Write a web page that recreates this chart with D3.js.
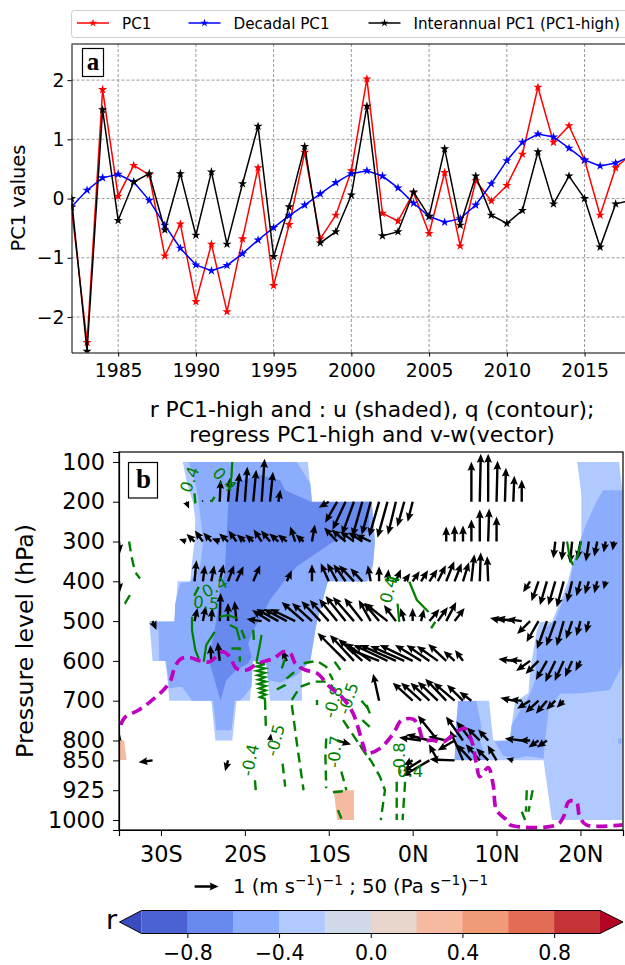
<!DOCTYPE html>
<html>
<head>
<meta charset="utf-8">
<script src="https://cdn.jsdelivr.net/npm/d3@7"></script>
<style>
  html, body { margin: 0; padding: 0; background: #fff; }
  svg { display: block; }
  text { font-family: "DejaVu Sans", sans-serif; fill: #000; }
</style>
</head>
<body>
<svg id="main-svg" width="625" height="965"></svg>
<script>
// ---- panel a data
var years = d3.range(1982, 2019);
var pc1 = [-0.15,-2.43,1.84,0.04,0.56,0.40,-0.97,-0.43,-1.74,-0.77,-1.91,-0.68,0.52,-1.47,-0.44,0.78,-0.68,-0.28,0.47,2.02,-0.25,-0.38,0.10,-0.59,0.44,-0.80,0.30,-0.04,0.22,0.75,1.88,0.95,1.23,0.65,-0.28,0.52,0.75];
var pc1Decadal = [-0.14,0.14,0.35,0.41,0.28,-0.03,-0.45,-0.84,-1.12,-1.22,-1.13,-0.93,-0.70,-0.49,-0.29,-0.11,0.08,0.27,0.42,0.47,0.38,0.18,-0.08,-0.30,-0.40,-0.34,-0.11,0.25,0.64,0.95,1.09,1.04,0.85,0.65,0.55,0.60,0.72];
var pc1High = [0.00,-2.58,1.50,-0.37,0.28,0.42,-0.53,0.42,-0.62,0.45,-0.77,0.25,1.22,-0.98,-0.14,0.88,-0.75,-0.56,0.06,1.56,-0.63,-0.56,0.11,-0.30,0.84,-0.45,0.38,-0.28,-0.42,-0.20,0.79,-0.09,0.38,0.00,-0.82,-0.09,-0.03];
var seriesNames = ["PC1", "Decadal PC1", "Interannual PC1 (PC1-high)"];
var yearTicks = [1985, 1990, 1995, 2000, 2005, 2010, 2015];
var pcTicks = [-2, -1, 0, 1, 2];

// ---- panel b data: lon (negative = S), pressure (hPa)
var pressureTicks = [100, 200, 300, 400, 500, 600, 700, 800, 850, 925, 1000];
var lonTicks = [-30, -20, -10, 0, 10, 20];
var lonLabels = ["30S", "20S", "10S", "0N", "10N", "20N"];

// r shading, one list per colour band
var bandLight = [
  [[-27.4,100],[-12.5,100],[-12,200],[-4.85,200],[-4.5,300],[-4.85,379],[-5.3,400],[-10.1,400],[-11.4,500],[-11.6,523],[-12.2,600],[-13.2,600],[-13.2,700],[-17,700],[-17.5,600],[-19,600],[-19.4,700],[-21,700],[-21.5,800],[-23.5,800],[-24,700],[-29,700],[-29.3,630],[-29.5,600],[-31,600],[-31.4,500],[-28.4,500],[-28,400],[-26.5,400],[-26.3,352],[-26,300],[-25.9,245],[-26.2,200],[-26.9,153]],
  [[19.6,100],[24.6,100],[25,171],[25,1000],[16.6,1000],[15.6,850],[5,850],[5.2,756],[5.6,700],[9.1,700],[9.6,800],[11.6,800],[11.8,761],[12.2,703],[13.8,681],[14,623],[14.8,523],[15.2,502],[16.6,502],[18.5,401],[19.1,351],[20.1,301],[20.1,179]]
];
var bandMid = [
  [[-26.7,100],[-13.8,100],[-12.2,154],[-12,200],[-4.9,200],[-4.5,300],[-4.7,355],[-5.5,401],[-10.1,400],[-11.4,500],[-11.6,523],[-12.2,600],[-13.2,623],[-13.8,636],[-15.8,655],[-17.2,648],[-17.5,600],[-19.1,600],[-19.2,665],[-19.8,682],[-20.6,700],[-21.2,700],[-21.6,774],[-23.4,774],[-23.8,700],[-26.3,700],[-27.5,665],[-29,669],[-29.1,648],[-29.4,600],[-30.2,600],[-30.3,523],[-30.7,502],[-28.4,502],[-28.3,456],[-27.7,405],[-26.5,401],[-25.3,359],[-24.95,300],[-25.5,201],[-25.9,154]],
  [[25,171],[22.7,171],[21.9,200],[20.7,255],[19.9,301],[19.1,355],[18.75,401],[17,497],[15.4,523],[14.8,573],[14.6,648],[14,682],[12.6,732],[11.8,761],[11.6,799],[9.8,803],[10.8,839],[12.4,845],[13.6,839],[15.6,845],[15.8,799],[16.2,724],[17.6,682],[19.9,682],[23.5,673],[24.9,615],[25,600]],
  [[5.4,701],[7.6,701],[8.2,765],[8,799],[8.8,849],[5,849],[5.2,757]],
  [[24.5,795],[24.9,795],[24.9,808],[24.5,808]]
];
var bandDark = [
  [[-21.7,154],[-18.2,133],[-15.8,146],[-15.2,171],[-12,201],[-5.2,200],[-5.2,275],[-9.5,301],[-11.8,334],[-13.8,363],[-15.2,397],[-17,447],[-17.8,481],[-19,523],[-19.6,556],[-19.2,590],[-19.6,606],[-21,623],[-22.2,648],[-22.9,700],[-23.6,648],[-24.2,606],[-24,564],[-23.4,497],[-23,422],[-22.4,380],[-22.2,296],[-22,213]]
];
var bandOrange = [
  [[-35,800],[-34.4,800],[-34.1,849],[-35,849]],
  [[-9.4,925],[-7,925],[-7,1000],[-9,1000]]
];

// q contours, negative ones dashed
var contourNeg = [
  [[-33.8,300],[-33.5,338],[-33.1,376],[-32.5,393]],
  [[-33.7,435],[-34.3,456],[-34.9,460]],
  [[-26,179],[-25.9,204]],
  [[-23.6,188],[-24,200]],
  [[-25.5,414],[-26.1,439]],
  [[-21.6,569],[-20.6,569],[-20.6,602]],
  [[-20.4,522],[-20,544]],
  [[-19,522],[-18.9,556]],
  [[-17.6,698],[-17.5,765]],
  [[-18.8,900],[-18.7,925]],
  [[-15.5,858],[-15.2,916]],
  [[-16.2,672],[-15.2,661],[-15,644],[-13.8,623],[-13.2,615]],
  [[-15.6,619],[-15.2,594]],
  [[-14.4,698],[-13.4,665],[-11.8,652],[-10.3,652],[-9.5,665]],
  [[-14.4,711],[-13.8,807],[-13,925]],
  [[-13,606],[-11.4,600],[-10.3,615],[-9.5,648]],
  [[-9.3,602],[-8.3,632]],
  [[-11.4,698],[-11.4,711]],
  [[-8.3,749],[-6.7,799],[-5.1,849]],
  [[-5.5,711],[-5.1,732]],
  [[-10.3,795],[-10.4,841],[-10.3,920]],
  [[-8.5,878],[-7.9,925]],
  [[-8.9,975],[-8.5,996]],
  [[-9.5,930],[-8.1,927]],
  [[-6.1,700],[-4.9,730]],
  [[-6,749],[-4.7,774]],
  [[-6.3,811],[-4.9,853],[-3.9,891],[-3.3,925],[-3.8,1000]],
  [[-1.9,904],[-1.9,1000]],
  [[-0.9,904],[-1.2,1000]],
  [[13.6,925],[13.5,979]],
  [[14.3,925],[13.8,979]],
  [[13,979],[13.4,1000]],
  [[2.7,502],[2.2,518]]
];
var contourPos = [
  [[-21.5,100],[-21.6,137],[-21.8,162]],
  [[-26.3,489],[-26.3,523],[-25.9,573],[-25.5,594]],
  [[-23.6,527],[-24.6,560],[-24.9,602]],
  [[-23,489],[-22,485],[-21,493]],
  [[-21.8,510],[-21,518],[-20.6,548]],
  [[-18,535],[-18.6,602]],
  [[-18.7,604],[-17.6,608],[-18.6,614],[-17.6,619],[-18.6,625],[-17.6,630],[-18.5,636],[-17.6,641],[-18.4,647],[-17.5,652],[-18.4,658],[-17.5,663],[-18.3,669],[-17.5,674],[-18.2,680],[-17.5,685],[-18.2,691],[-17.5,696]],
  [[-3,389],[-1.6,397]],
  [[-0.4,401],[0.5,447],[1.9,477]],
  [[-1.8,456],[-1.6,502]],
  [[18.4,300],[18.7,338],[19.1,359]],
  [[20.1,300],[19.5,347]]
];
var contourLabels = [
  [-26.6,144,"0.4",-70],[-22.4,144,"0.4",48],[-23.6,414,"0.4",-28],[-24.6,454,"0.5",5],
  [-19.4,849,"-0.4",-78],[-16.4,799,"-0.5",-75],[-9.5,703,"-0.8",-75],[-7.7,694,"-0.5",-72],
  [-9.3,828,"-0.7",-85],[-1.6,845,"-0.8",-90],[-0.3,878,"0.4",0],[-2.9,422,"0.4",-75]
];

// the thick magenta dashed line
var magentaLine = [[-34.8,761],[-34.3,742],[-32.7,724],[-31.3,703],[-29.7,673],[-28.9,652],[-28.4,619],[-27.7,596],[-26.7,591],[-25.3,600],[-24.2,602],[-22.6,577],[-21.8,590],[-21,619],[-19.8,623],[-18.4,606],[-16.6,594],[-15.4,577],[-14.6,580],[-14,606],[-12.8,623],[-11.4,631],[-9.9,665],[-8.3,694],[-7.1,732],[-5.9,811],[-5.5,832],[-3.9,820],[-2.3,782],[-1.3,749],[0.1,747],[0.7,765],[1.3,799],[2.3,799],[3.7,803],[5.2,778],[6.2,770],[7,799],[7.6,858],[8,891],[9,868],[9.6,912],[10,975],[11.2,1000],[11.6,1012],[17.2,1012],[18,991],[18.6,954],[19.5,954],[19.9,991],[20.7,1012],[25,1012]];

// v-w vectors: [lon, v, omega]. omega > 0 is downward. The key arrow is 24 units long.
var vec200 = [[-27,3,7],[-25,-1,-2],[-24,-1,-2],[-23,1,-22],[-22,2,-24],[-21,3,-29],[-20,2.5,-35],[-19,3,-32],[-18,3,-43],[-17,3,-30],[-16,2,-12],[-10,-10,6],[-9,-12,21],[-8,-13,28],[-7,-12,33],[-6,-10,35],[-5,-9,33],[-4,-10,35],[-3,-10,36],[-2,-8,33],[-1,-7,25],[0,-5,20],[7,0,-40],[8,1,-48],[9,0,-48],[10,1,-41],[11,1,-34],[12,1,-26],[13,0,-22]];
var vec300 = [[-35,1,12],[-27,-7,-2.5],[-26,-8,-7.5],[-25,-8,-11],[-24,-8,-9],[-23,-8,-3],[-22,-9,-8],[-21,-8,-11],[-20,-8,-7],[-19,-8,-7],[-18,-8,-12],[-17,-9,-11],[-16,-9,-8],[-15,-9,-7],[-14,-5,-15],[-13,-8,-7],[-12,3,-17],[-9,-13,-14],[-8,-14,-12],[-7,-14,-10],[-6,-14,-9],[-5,-15,-7],[4,0,-15],[5,0,-16],[6,0,-16],[7,0,-22],[8,0,-32],[9,1,-33],[10,0,-25],[17,-2,17],[18,-2,19],[19,-2,22],[20,-3,18],[21,-3,20],[22,-3,15],[23,-2,11],[24,-1.5,9]];
var vec400 = [[-35,1,11],[-26,2,-21],[-25,2,-16],[-24,3,-16],[-23,4,-17],[-22,6,-16],[-21,7,-15],[-19,7,-16],[-15,5,-11],[-12,0,-17],[-10,-8,-18],[-9,-10,-18],[-8,-12,-17],[-7,-15,-16],[-6,-12,-13],[-5,-3,-16],[-4,0,-15],[-3,1,-12],[-2,5,-12],[-1,6,-8],[0,7,-10],[1,7,-11],[2,8,-12],[3,8,-16],[4,8,-20],[5,7,-18],[6,6,-19],[7,3,-27],[8,1,-29],[9,-1,-25],[14,-7,11],[15,-7,20],[16,-7,24],[17,-7,24],[18,-7,26],[19,-5,21],[20,-4,15],[21,-4,13],[22,-3,12],[23,-2,8]];
var vec500 = [[-31,4,9],[-26,3,-13],[-25,3,-15],[-24,1,-13],[-23,1,-28],[-22,0,-18],[-21,-2,-20],[-18,-15,-2],[-17,-18,-11],[-16,-22,-12],[-15,-23,-12],[-14,-25,-12],[-13,-22,-19],[-12,-20,-18],[-11,-19,-20],[-10,-19,-21],[-9,-18,-22],[-8,-20,-25],[-7,-21,-24],[-6,-18,-23],[-5,-12,-21],[-4,-15,-18],[-3,-23,-18],[-2,-12,-16],[-1,-4,-13],[0,0,-13],[1,3,-12],[2,10,-12],[3,10,-14],[4,10,-19],[5,10,-13],[11,-15,-3],[12,-17,-3],[13,-15,-2],[14,-13,13],[15,-12,21],[16,-10,28],[17,-9,25],[18,-7,25],[19,-6,18],[20,-4,15],[21,-3,12]];
var vec600 = [[-24,-1,-16],[-23,-2,-19],[-15,-5,-11],[-8,-28,-28],[-7,-24,-26],[-6,-24,-22],[-5,-26,-18],[-4,-33,-13],[-3,-34,-16],[-2,-36,-16],[-1,-34,-15],[0,-33,-16],[1,-26,-16],[2,-23,-16],[3,-21,-15],[4,-18,-17],[5,-11,-10],[6,-8,-11],[12,-15,-2],[13,-13,-1],[14,-14,10],[15,-13,13],[16,-11,19],[17,-10,21],[18,-9,20],[19,-7,16],[20,-5,10]];
var vec700 = [[-4,-6,-27],[0,-20,-18],[1,-20,-18],[2,-19,-18],[3,-20,-19],[4,-21,-22],[5,-21,-18],[6,-16,-16],[7,-12,-9],[12,-13,-3],[13,-12,-1],[14,-13,8],[15,-13,12],[16,-11,13],[17,-9,9],[18,-7,7]];
var vec800 = [[-35,1,-6],[-17,1,-7],[-9,14,4],[1,-22,-3],[2,-23,-6],[3,-20,-25],[4,-18,-4],[5,-17,10],[6,-17,-24],[7,-15,-19],[8,-13,-13],[9,-10,-11],[13,-17,-2],[14,-11,0],[15,-10,7],[16,-10,7]];
var vec850 = [[-31,-14,2],[-22,-3,11],[0,-9,5],[1,-18,11],[2,-27,16],[3,-9,-16],[5,-25,-1],[6,-13,-30],[7,-15,-16],[8,-14,-16],[9,-12,-12],[10,-9,-15],[12,-7,-2]];
var vectorLevels = [[200,vec200],[300,vec300],[400,vec400],[500,vec500],[600,vec600],[700,vec700],[800,vec800],[850,vec850]];

// ---- colour bar data
var rLevels = [-1,-0.8,-0.6,-0.4,-0.2,0,0.2,0.4,0.6,0.8,1];
var rColors = ["#4b62d3","#6889ee","#8cadfd","#b0caff","#d0d9e8","#e8d5cc","#f6baa0","#f19a78","#e36c55","#c53334"];
var rTicks = [-0.8,-0.4,0,0.4,0.8];

var svg = d3.select("#main-svg");
var minus = function(s){ return s.replace("-", "\u2212"); };

// ---------------- panel a
var a = {left: 71.5, right: 625, top: 44, bottom: 352.5};
var xA = d3.scaleLinear().domain([1982, 2017.6]).range([a.left, a.right]);
var yA = d3.scaleLinear().domain([-2.6, 2.61]).range([a.bottom, a.top]);

svg.append("clipPath").attr("id", "clip-a").append("rect")
   .attr("x", a.left).attr("y", a.top).attr("width", a.right-a.left).attr("height", a.bottom-a.top);

var gridA = svg.append("g").attr("stroke", "#999").attr("stroke-width", 1).attr("stroke-dasharray", "3,2");
gridA.selectAll("line.gx").data(yearTicks).enter().append("line")
     .attr("x1", function(d){return xA(d)}).attr("x2", function(d){return xA(d)})
     .attr("y1", a.top).attr("y2", a.bottom);
gridA.selectAll("line.gy").data(pcTicks).enter().append("line")
     .attr("y1", function(d){return yA(d)}).attr("y2", function(d){return yA(d)})
     .attr("x1", a.left).attr("x2", a.right);

function star(size){ return d3.symbol().type(d3.symbolStar).size(size)(); }

var lineA = d3.line().x(function(d,i){return xA(years[i])}).y(function(d){return yA(d)});
var plotA = svg.append("g").attr("clip-path", "url(#clip-a)");
[[pc1,"#ff0000"],[pc1Decadal,"#0000ff"],[pc1High,"#000000"]].forEach(function(s){
  plotA.append("path").attr("d", lineA(s[0])).attr("fill", "none").attr("stroke", s[1]).attr("stroke-width", 1.5);
  plotA.selectAll(null).data(s[0]).enter().append("path")
       .attr("d", star(26)).attr("fill", s[1])
       .attr("transform", function(d,i){return "translate("+xA(years[i])+","+yA(d)+")"});
});

var axisXA = svg.append("g").attr("transform", "translate(0,"+a.bottom+")")
  .call(d3.axisBottom(xA).tickValues(yearTicks).tickFormat(d3.format("d")).tickSize(4).tickSizeOuter(0));
var axisYA = svg.append("g").attr("transform", "translate("+a.left+",0)")
  .call(d3.axisLeft(yA).tickValues(pcTicks).tickFormat(function(d){return minus(String(d))}).tickSize(4).tickSizeOuter(0));
axisXA.selectAll("text").style("font-size", "18.8px").style("font-family", "DejaVu Sans").attr("dy", "0.95em");
axisYA.selectAll("text").style("font-size", "18.8px").style("font-family", "DejaVu Sans");
svg.append("line").attr("x1", a.left).attr("x2", a.right).attr("y1", a.top).attr("y2", a.top).attr("stroke", "#000").attr("stroke-width", 1.2);

svg.append("text").attr("transform", "translate(25,198) rotate(-90)").attr("text-anchor", "middle")
   .style("font-size", "19.4px").text("PC1 values");

svg.append("rect").attr("x", 82.5).attr("y", 48.5).attr("width", 21).attr("height", 28)
   .attr("fill", "#fff").attr("stroke", "#000").attr("stroke-width", 1.2);
svg.append("text").attr("x", 93).attr("y", 70).attr("text-anchor", "middle")
   .style("font-family", "Liberation Serif").style("font-weight", "bold").style("font-size", "25px").text("a");

// legend
svg.append("rect").attr("x", 71.5).attr("y", 10.5).attr("width", 570).attr("height", 27).attr("rx", 3)
   .attr("fill", "#fff").attr("stroke", "#cfcfcf");
var legendX = [77, 188.5, 368.5];
[["#ff0000",0],["#0000ff",1],["#000000",2]].forEach(function(s){
  var lx = legendX[s[1]];
  svg.append("line").attr("x1", lx).attr("x2", lx+32).attr("y1", 23).attr("y2", 23).attr("stroke", s[0]).attr("stroke-width", 1.5);
  svg.append("path").attr("d", star(20)).attr("fill", s[0]).attr("transform", "translate("+(lx+16)+",23)");
  svg.append("text").attr("x", lx+45).attr("y", 29).style("font-size", "15.2px").text(seriesNames[s[1]]);
});

// ---------------- panel b
var b = {left: 119, right: 623, top: 452, bottom: 830};
var xB = d3.scaleLinear().domain([-35, 25.07]).range([b.left, b.right]);
var yB = d3.scaleLinear().domain([75, 1025]).range([b.top, b.bottom]);
var geo = d3.line().x(function(d){return xB(d[0])}).y(function(d){return yB(d[1])});

svg.append("clipPath").attr("id", "clip-b").append("rect")
   .attr("x", b.left).attr("y", b.top).attr("width", b.right-b.left).attr("height", b.bottom-b.top);
var plotB = svg.append("g").attr("clip-path", "url(#clip-b)");

[[bandLight,"#b0caff"],[bandMid,"#8cadfd"],[bandDark,"#6889ee"],[bandOrange,"#f6baa0"]].forEach(function(band){
  plotB.selectAll(null).data(band[0]).enter().append("path")
       .attr("d", function(d){return geo(d)+"Z"}).attr("fill", band[1]);
});

// quiver arrows, polygon in the same style as matplotlib
var arrowLen = d3.scaleLinear().domain([0, 24]).range([0, 24]);
function arrowPath(len){
  var headLen = 9, headW = 3.9, shaftW = 1.2, k = 1;
  if (len < headLen) { k = len/headLen; }
  var hl = headLen*k, hw = headW*k, sw = shaftW*k;
  return "M0,"+(-sw)+"L"+(len-hl*0.88)+","+(-sw)+"L"+(len-hl)+","+(-hw)+"L"+len+",0L"+(len-hl)+","+hw+"L"+(len-hl*0.88)+","+sw+"L0,"+sw+"Z";
}
vectorLevels.forEach(function(level){
  plotB.selectAll(null).data(level[1]).enter().append("path")
       .attr("d", function(d){return arrowPath(arrowLen(Math.hypot(d[1], d[2])))})
       .attr("fill", "#000")
       .attr("transform", function(d){
         var ang = Math.atan2(d[2], d[1])*180/Math.PI;
         return "translate("+xB(d[0])+","+yB(level[0])+") rotate("+ang+")";
       });
});

var smooth = d3.line().x(function(d){return xB(d[0])}).y(function(d){return yB(d[1])});
plotB.selectAll(null).data(contourNeg).enter().append("path")
     .attr("d", smooth).attr("fill", "none").attr("stroke", "#008000").attr("stroke-width", 2.4).attr("stroke-dasharray", "10,6");
plotB.selectAll(null).data(contourPos).enter().append("path")
     .attr("d", smooth).attr("fill", "none").attr("stroke", "#008000").attr("stroke-width", 2.2);
plotB.selectAll(null).data(contourLabels).enter().append("text")
     .attr("transform", function(d){return "translate("+xB(d[0])+","+yB(d[1])+") rotate("+d[3]+")"})
     .attr("text-anchor", "middle").attr("dy", "0.36em")
     .style("font-size", "16.5px").style("fill", "#008000").text(function(d){return d[2]});

plotB.append("path").attr("d", smooth.curve(d3.curveCatmullRom)(magentaLine))
     .attr("fill", "none").attr("stroke", "#bf00bf").attr("stroke-width", 3.7).attr("stroke-dasharray", "11,6");

var axisXB = svg.append("g").attr("transform", "translate(0,"+b.bottom+")")
  .call(d3.axisBottom(xB).tickValues(lonTicks).tickFormat(function(d,i){return lonLabels[i]}).tickSize(6).tickPadding(5));
var axisYB = svg.append("g").attr("transform", "translate("+b.left+",0)")
  .call(d3.axisLeft(yB).tickValues(pressureTicks).tickFormat(d3.format("d")).tickSize(6).tickPadding(8));
axisXB.selectAll("text").style("font-size", "22.4px").style("font-family", "DejaVu Sans").attr("dy", "0.95em");
axisYB.selectAll("text").style("font-size", "22.4px").style("font-family", "DejaVu Sans");
[axisXB, axisYB].forEach(function(ax){ ax.select(".domain").attr("stroke-width", 1.2); });
svg.append("rect").attr("x", b.left).attr("y", b.top).attr("width", b.right-b.left).attr("height", b.bottom-b.top)
   .attr("fill", "none").attr("stroke", "#000").attr("stroke-width", 1.2);

svg.append("rect").attr("x", 128.5).attr("y", 462.5).attr("width", 29).attr("height", 35.5)
   .attr("fill", "#fff").attr("stroke", "#000").attr("stroke-width", 1.2);
svg.append("text").attr("x", 143.5).attr("y", 488).attr("text-anchor", "middle")
   .style("font-family", "Liberation Serif").style("font-weight", "bold").style("font-size", "27px").text("b");

svg.append("text").attr("x", 372).attr("y", 417).attr("text-anchor", "middle").style("font-size", "21.9px")
   .text("r PC1-high and : u (shaded), q (contour);");
svg.append("text").attr("x", 372).attr("y", 442).attr("text-anchor", "middle").style("font-size", "21.9px")
   .text("regress PC1-high and v-w(vector)");
svg.append("text").attr("transform", "translate(33,641) rotate(-90)").attr("text-anchor", "middle").style("font-size", "23.7px")
   .text("Pressure level (hPa)");

// quiver key
svg.append("path").attr("d", arrowPath(arrowLen(24))).attr("fill", "#000").attr("transform", "translate(194.6,886.5)");
var keyText = svg.append("text").attr("x", 233).attr("y", 893).style("font-size", "19.6px");
keyText.append("tspan").text("1 (m s");
keyText.append("tspan").attr("dy", -8).style("font-size", "13.7px").text("\u22121");
keyText.append("tspan").attr("dy", 8).text(")");
keyText.append("tspan").attr("dy", -8).style("font-size", "13.7px").text("\u22121");
keyText.append("tspan").attr("dy", 8).text(" ; 50 (Pa s");
keyText.append("tspan").attr("dy", -8).style("font-size", "13.7px").text("\u22121");
keyText.append("tspan").attr("dy", 8).text(")");
keyText.append("tspan").attr("dy", -8).style("font-size", "13.7px").text("\u22121");

// ---------------- colour bar
var cb = {left: 141.5, right: 600, top: 910.5, bottom: 933.5};
var xC = d3.scaleLinear().domain([-1, 1]).range([cb.left, cb.right]);
svg.selectAll(null).data(rColors).enter().append("rect")
   .attr("x", function(d,i){return xC(rLevels[i])}).attr("y", cb.top)
   .attr("width", function(d,i){return xC(rLevels[i+1])-xC(rLevels[i])+0.5}).attr("height", cb.bottom-cb.top)
   .attr("fill", function(d){return d});
var midC = (cb.top+cb.bottom)/2;
svg.append("path").attr("d", "M"+cb.left+","+cb.top+"L119.5,"+midC+"L"+cb.left+","+cb.bottom+"Z").attr("fill", "#3b4cc0");
svg.append("path").attr("d", "M"+cb.right+","+cb.top+"L623,"+midC+"L"+cb.right+","+cb.bottom+"Z").attr("fill", "#b40426");
svg.append("path").attr("d", "M"+cb.left+","+cb.top+"L119.5,"+midC+"L"+cb.left+","+cb.bottom+"L"+cb.right+","+cb.bottom+"L623,"+midC+"L"+cb.right+","+cb.top+"Z")
   .attr("fill", "none").attr("stroke", "#000").attr("stroke-width", 1);
var axisC = svg.append("g").attr("transform", "translate(0,"+cb.bottom+")")
  .call(d3.axisBottom(xC).tickValues(rTicks).tickFormat(function(d){return minus(d.toFixed(1))}).tickSize(4.5).tickSizeOuter(0));
axisC.select(".domain").remove();
axisC.selectAll("text").style("font-size", "20.5px").style("font-family", "DejaVu Sans").attr("dy", "0.95em");
svg.append("text").attr("x", 117).attr("y", 929).attr("text-anchor", "end").style("font-size", "27px").text("r");
</script>
</body>
</html>
